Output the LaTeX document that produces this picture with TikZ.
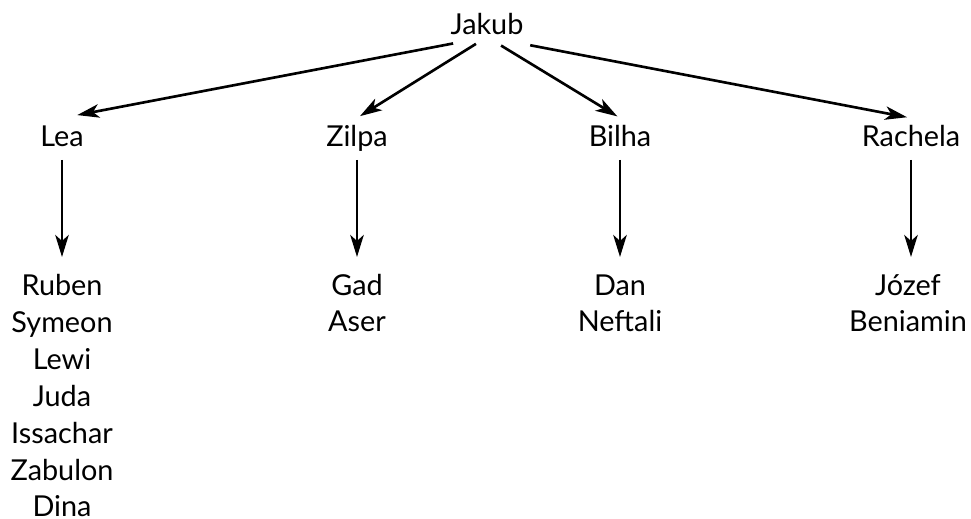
\documentclass[tikz,border=0pt]{standalone}
\usepackage{fontspec}
\setmainfont{Lato}
\usepackage{xcolor}
\usetikzlibrary{arrows.meta}

\begin{document}
\begin{tikzpicture}[x=0.02cm,y=-0.02cm,
    every node/.style={inner sep=0pt,anchor=base,align=center,
        font=\fontsize{16.4}{21.05}\selectfont},
    line width=1.5pt,
    >={Stealth[length=0.44cm,width=0.27cm,inset=0.12cm]}]
            \useasboundingbox (0,0) rectangle (971,519);
            \node (jakub) at (487,35) {Jakub};
            \node (lea) at (62,147) {Lea};
            \node (zilpa) at (357,147) {Zilpa};
            \node (bilha) at (620,147) {Bilha};
            \node (rachela) at (911,147) {Rachela};
            % multi-line nodes: base is the last line
            \node (sonsLea) at (62,517) {Ruben\\Symeon\\Lewi\\Juda\\Issachar\\Zabulon\\Dina};
            \node (sonsZilpa) at (357,332) {Gad\\Aser};
            \node (sonsBilha) at (620,332) {Dan\\Neftali};
            \node (sonsRachela) at (908,332) {Józef\\Beniamin};
            
            \draw[->,shorten <=0.69cm,shorten >=0.31cm] ([yshift=-0.04cm]jakub.base) -- ([yshift=0.58cm]lea.base);
            \draw[->,shorten <=0.26cm,shorten >=0.07cm] ([yshift=-0.04cm]jakub.base) -- ([yshift=0.58cm]zilpa.base);
            \draw[->,shorten <=0.33cm,shorten >=0.06cm] ([yshift=-0.04cm]jakub.base) -- ([yshift=0.58cm]bilha.base);
            \draw[->,shorten <=0.88cm,shorten >=0.08cm] ([yshift=-0.04cm]jakub.base) -- ([yshift=0.58cm]rachela.base);
            \draw[->] ([yshift=-0.26cm]lea.base) -- ([yshift=-2.2cm]lea.base);
            \draw[->] ([yshift=-0.26cm]zilpa.base) -- ([yshift=-2.2cm]zilpa.base);
            \draw[->] ([yshift=-0.26cm]bilha.base) -- ([yshift=-2.2cm]bilha.base);
            \draw[->] ([yshift=-0.26cm]rachela.base) -- ([yshift=-2.2cm]rachela.base);
        \end{tikzpicture}
\end{document}
